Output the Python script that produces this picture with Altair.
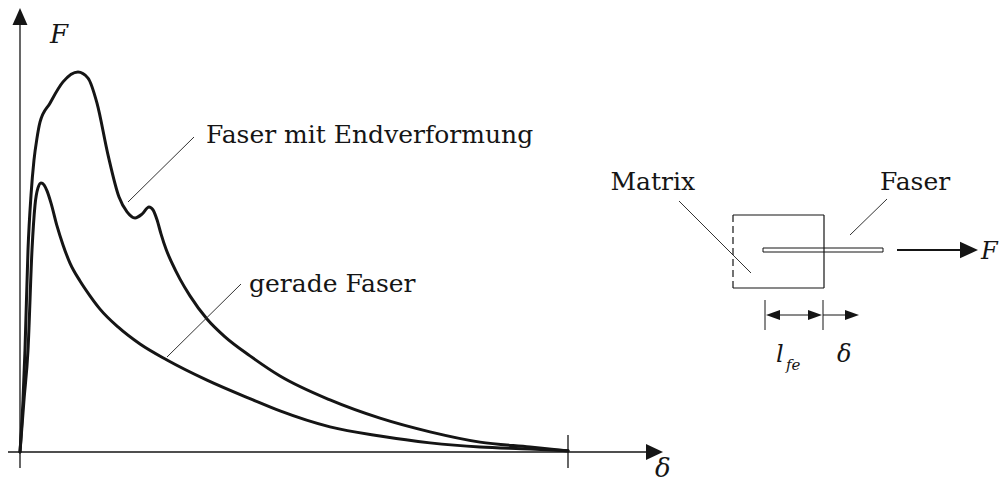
import altair as alt
import pandas as pd

# ---------------- data: pull-out curves (delta in % of end slip, F in % of max) ----------------
end_delta = [0, 0.55, 0.91, 1.46, 2.01, 2.55, 3.10, 3.65, 5.47, 7.85, 10.58, 12.41, 14.05, 16.06,
             18.07, 19.53, 20.99, 22.26, 23.54, 24.27, 25.00, 25.73, 26.64, 27.74, 29.20, 31.02,
             34.12, 37.41, 41.97, 47.45, 56.57, 65.69, 74.82, 83.94, 93.07, 100]
end_F = [0, 13.7, 26.8, 53.2, 67.6, 76.8, 82.6, 86.8, 91.8, 97.4, 100, 98.4, 91.8, 78.2,
         67.1, 63.2, 61.6, 62.6, 64.5, 63.7, 61.1, 57.4, 53.4, 49.7, 45.5, 41.1,
         35.0, 30.3, 25.3, 20.0, 13.7, 8.9, 5.3, 2.6, 1.3, 0.3]

straight_delta = [0, 0.73, 1.46, 2.19, 2.74, 3.28, 3.83, 4.38, 4.93, 5.66, 6.75, 7.85, 9.12, 10.95,
                  12.77, 14.60, 17.88, 21.90, 26.82, 34.12, 42.52, 47.45, 56.57, 65.69, 74.82,
                  83.94, 93.07, 100]
straight_F = [0, 13.7, 26.8, 53.2, 65.0, 69.5, 70.8, 70.3, 68.7, 65.5, 59.5, 54.5, 49.7, 45.0,
              41.1, 37.6, 32.9, 28.4, 24.2, 18.9, 13.7, 10.8, 6.6, 4.2, 2.4,
              1.3, 0.8, 0.3]

series_names = ["Faser mit Endverformung", "gerade Faser"]

# ---------------- layout (page pixels -> data units) ----------------
W, H = 992, 474
def dx(px):
    return (px - 20) / 5.48
def fy(py):
    return (452 - py) / 3.8

xs = alt.Scale(domain=[dx(8), dx(8 + W)], nice=False, zero=False)
ys = alt.Scale(domain=[fy(8 + H), fy(8)], nice=False, zero=False)
INK = "#151515"
SERIF = "DejaVu Serif"

curves = pd.DataFrame(
    [{"d": d, "F": f, "s": series_names[0]} for d, f in zip(end_delta, end_F)]
    + [{"d": d, "F": f, "s": series_names[1]} for d, f in zip(straight_delta, straight_F)]
)

def segs(lst):
    return pd.DataFrame([{"x": dx(a), "y": fy(b), "x2": dx(c), "y2": fy(d)} for a, b, c, d in lst])

def rules(lst, **kw):
    return alt.Chart(segs(lst)).mark_rule(color=kw.pop("color", INK), **kw).encode(
        x=alt.X("x:Q", scale=xs, axis=None), y=alt.Y("y:Q", scale=ys, axis=None),
        x2="x2:Q", y2="y2:Q")

def pts(lst):
    return pd.DataFrame([{"x": dx(a), "y": fy(b)} for a, b in lst])

def heads(lst, shape, size):
    return alt.Chart(pts(lst)).mark_point(shape=shape, size=size, filled=True, color=INK,
                                          opacity=1, strokeWidth=0).encode(
        x=alt.X("x:Q", scale=xs, axis=None), y=alt.Y("y:Q", scale=ys, axis=None))

def texts(lst, size, italic=False, align="left"):
    df = pd.DataFrame([{"x": dx(a), "y": fy(b), "t": t} for a, b, t in lst])
    kw = dict(font=SERIF, fontSize=size, color=INK, align=align, baseline="alphabetic")
    if italic:
        kw["fontStyle"] = "italic"
    return alt.Chart(df).mark_text(**kw).encode(
        x=alt.X("x:Q", scale=xs, axis=None), y=alt.Y("y:Q", scale=ys, axis=None), text="t:N")

# curves
curve_layer = alt.Chart(curves).mark_line(interpolate="monotone", strokeWidth=3, color=INK,
                                          strokeJoin="round", strokeCap="round").encode(
    x=alt.X("d:Q", scale=xs, axis=None),
    y=alt.Y("F:Q", scale=ys, axis=None),
    detail="s:N")

# axes
axes = rules([(20, 468, 20, 20), (7, 452, 650, 452), (568, 435, 568, 468)], strokeWidth=1.3)
axis_up = heads([(20, 16.5)], "M0,-1 L0.88,1 L-0.88,1 Z", 289)
axis_right = heads([(654.5, 452)], "M1,0 L-1,-0.94 L-1,0.94 Z", 289)

# leader lines
leaders = rules([(128, 202, 194, 137), (167, 357, 241, 284), (679, 201, 751, 273), (850, 235, 887, 199)],
                strokeWidth=1, color="#333333")

# fibre (rectangle)
fibre_df = pd.DataFrame([{"x": dx(763), "x2": dx(883), "y": fy(248), "y2": fy(252)}])
fibre = alt.Chart(fibre_df).mark_rect(fill="white", stroke=INK, strokeWidth=1).encode(
    x=alt.X("x:Q", scale=xs, axis=None), x2="x2:Q",
    y=alt.Y("y:Q", scale=ys, axis=None), y2="y2:Q")

# matrix box
box_solid = rules([(733, 215, 824, 215), (824, 215, 824, 288), (733, 288, 824, 288)], strokeWidth=1.2)
box_dash = rules([(733, 215, 733, 288)], strokeWidth=1.2, strokeDash=[7, 4])

# force arrow
force = rules([(897, 250, 962, 250)], strokeWidth=2.2)
force_head = heads([(969, 250)], "M1,0 L-1,-0.92 L-1,0.92 Z", 324)

# dimension lines
dims = rules([(765, 300, 765, 330), (823, 300, 823, 330), (772, 315, 816, 315), (823, 315, 852, 315)],
             strokeWidth=1)
dim_right = heads([(815, 315), (852, 315)], "M1,0 L-1,-0.71 L-1,0.71 Z", 196)
dim_left = heads([(773, 315)], "M-1,0 L1,-0.71 L1,0.71 Z", 196)

# labels
labels = texts([(206, 143, "Faser mit Endverformung"), (249, 292, "gerade Faser"),
                (880, 190, "Faser")], 25)
matrix_lbl = texts([(695, 190, "Matrix")], 25, align="right")
sym_big = texts([(50, 43, "F"), (655, 477, "δ")], 26, italic=True)
sym_mid = texts([(981, 259, "F"), (776, 362, "l"), (837, 362, "δ")], 24, italic=True)
sym_sub = texts([(786, 370, "fe")], 15, italic=True)

chart = alt.layer(
    axes, axis_up, axis_right, curve_layer, leaders, fibre, box_solid, box_dash,
    force, force_head, dims, dim_right, dim_left,
    labels, matrix_lbl, sym_big, sym_mid, sym_sub
).properties(
    width=W, height=H, autosize="none", padding=0
).configure_view(strokeWidth=0)

chart.save("out.html", embed_options={"renderer": "svg", "actions": False})
